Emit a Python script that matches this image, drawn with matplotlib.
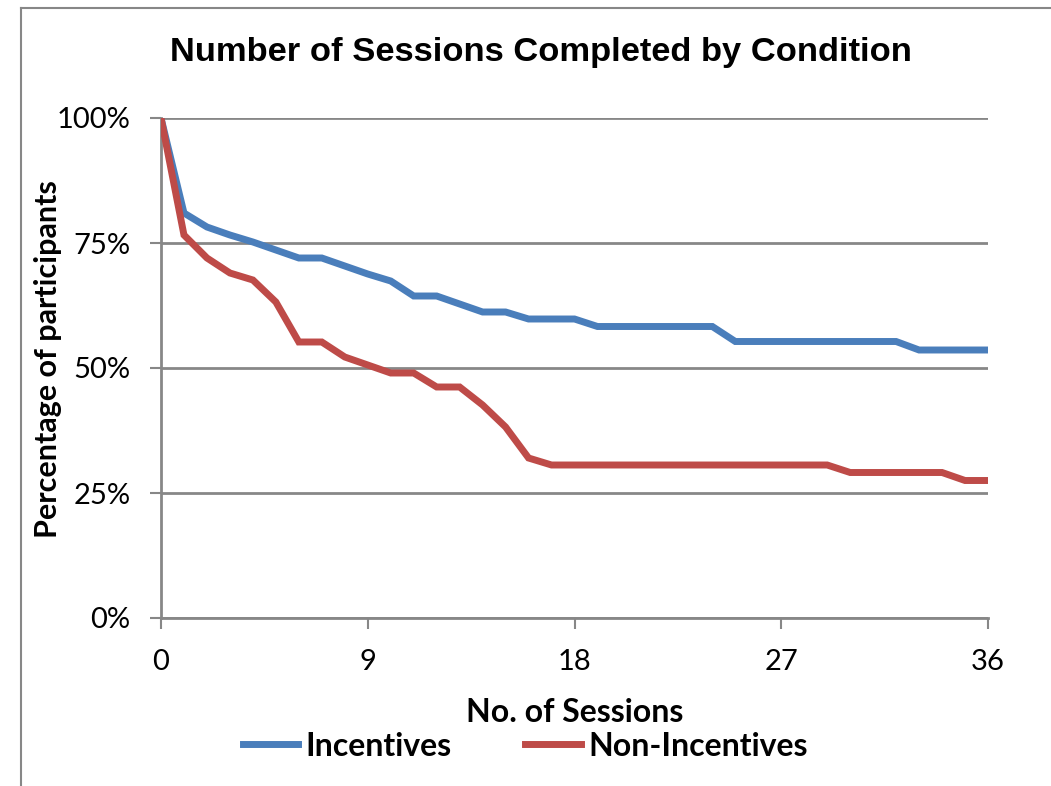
import matplotlib.pyplot as plt
from matplotlib.lines import Line2D
from matplotlib.ticker import PercentFormatter

sessions = list(range(37))
incentives = [100, 81.0, 78.2, 76.6, 75.2, 73.6, 72.0, 72.0, 70.4, 68.8,
              67.4, 64.4, 64.4, 62.8, 61.2, 61.2, 59.8, 59.8, 59.8, 58.3,
              58.3, 58.3, 58.3, 58.3, 58.3, 55.3, 55.3, 55.3, 55.3, 55.3,
              55.3, 55.3, 55.3, 53.6, 53.6, 53.6, 53.6]
non_incentives = [100, 76.6, 72.0, 69.0, 67.6, 63.2, 55.2, 55.2, 52.2, 50.6,
                  49.0, 49.0, 46.2, 46.2, 42.6, 38.2, 32.0, 30.6, 30.6, 30.6,
                  30.6, 30.6, 30.6, 30.6, 30.6, 30.6, 30.6, 30.6, 30.6, 30.6,
                  29.1, 29.1, 29.1, 29.1, 29.1, 27.5, 27.5]
x_ticks = [0, 9, 18, 27, 36]
y_ticks = [0, 25, 50, 75, 100]

W, H = 1051, 786
GRAY = "#878787"
fig = plt.figure(figsize=(W / 100, H / 100), dpi=100)
ax = fig.add_axes([161 / W, 1 - 618 / H, 827 / W, 500 / H])

ax.plot(sessions, incentives, color="#4A7EBB", lw=5, label="Incentives",
        solid_joinstyle="miter", zorder=3)
ax.plot(sessions, non_incentives, color="#BE4B48", lw=5, label="Non-Incentives",
        solid_joinstyle="miter", zorder=3)

ax.set_xlim(0, 36)
ax.set_ylim(0, 100)
ax.set_xticks(x_ticks)
ax.set_yticks(y_ticks)
ax.yaxis.set_major_formatter(PercentFormatter(xmax=100, decimals=0))
ax.grid(axis="y", color=GRAY, lw=2, zorder=1)
ax.set_axisbelow(True)
for side in ("top", "right"):
    ax.spines[side].set_visible(False)
for side in ("left", "bottom"):
    ax.spines[side].set_color(GRAY)
    ax.spines[side].set_linewidth(2)
ax.tick_params(axis="both", direction="out", length=8, width=1.5, color=GRAY,
               pad=14, labelsize=21)
for lbl in ax.get_xticklabels() + ax.get_yticklabels():
    lbl.set_family("Lato")

# titles and axis labels placed in figure pixels
fig.text(541 / W, 1 - 52 / H, "Number of Sessions Completed by Condition",
         family="Liberation Sans", fontsize=24.8, fontweight="bold",
         ha="center", va="center")
fig.text(575 / W, 1 - 713 / H, "No. of Sessions", family="Lato", fontsize=23,
         fontweight="bold", ha="center", va="center")
fig.text(48 / W, 1 - 359 / H, "Percentage of participants", family="Lato",
         fontsize=22, fontweight="bold", rotation=90, ha="center", va="center")

fig.legend(loc="center", bbox_to_anchor=(525 / W, 1 - 746 / H), ncol=2,
           frameon=False, handlelength=1.75, handletextpad=0.22, columnspacing=2.3,
           borderpad=0, prop={"family": "Lato", "weight": "bold", "size": 23})

# outer chart frame
fig.add_artist(Line2D([21 / W, 21 / W], [0, 1 - 8 / H], color=GRAY, lw=1.5))
fig.add_artist(Line2D([21 / W, 1], [1 - 8 / H, 1 - 8 / H], color=GRAY, lw=1.5))

fig.savefig("out.png", dpi=100)
